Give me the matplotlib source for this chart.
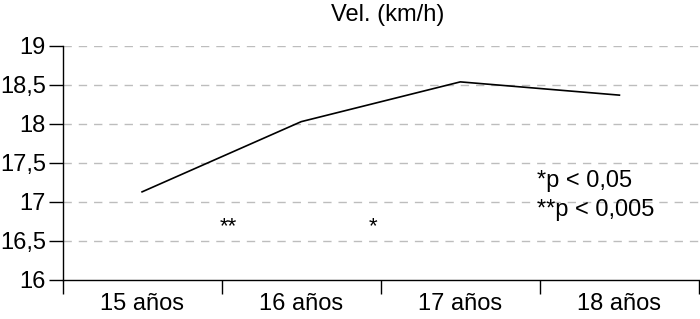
import matplotlib.pyplot as plt
from matplotlib.ticker import FuncFormatter

plt.rcParams['font.family'] = ['Liberation Sans', 'DejaVu Sans']

categorias = ['15 años', '16 años', '17 años', '18 años']
velocidad = [17.13, 18.03, 18.54, 18.37]
y_ticks = [16, 16.5, 17, 17.5, 18, 18.5, 19]

fig = plt.figure(figsize=(7, 3.19), dpi=100)
ax = fig.add_axes([62.5 / 700, 39 / 319, (699 - 62.5) / 700, 234 / 319])

for t in y_ticks[1:]:
    ax.axhline(t, color='#bdbdbd', lw=1, ls=(0, (6, 5)), zorder=0)

ax.plot(range(len(categorias)), velocidad, color='black', lw=1.2)

ax.set_xlim(-0.5, 3.5)
ax.set_ylim(16, 19)
ax.set_yticks(y_ticks)
ax.yaxis.set_major_formatter(FuncFormatter(lambda v, p: f'{v:g}'.replace('.', ',')))
ax.set_xticks([-0.5, 0.5, 1.5, 2.5, 3.5])
ax.set_xticklabels([])
ax.set_xticks(range(len(categorias)), minor=True)
ax.set_xticklabels(categorias, minor=True)
ax.tick_params(axis='x', which='minor', length=0, labelsize=17, pad=9)
ax.tick_params(axis='x', which='major', length=10, width=1)
ax.tick_params(axis='y', length=10, width=1, labelsize=17, pad=2)

for s in ['top', 'right']:
    ax.spines[s].set_visible(False)
ax.spines['left'].set_linewidth(1)
ax.spines['bottom'].set_linewidth(1)

ax.text(0.54, 16.68, '**', fontsize=16, ha='center', va='center')
ax.text(1.45, 16.68, '*', fontsize=16, ha='center', va='center')
ax.text(2.48, 17.27, '*p < 0,05', fontsize=17, ha='left', va='center')
ax.text(2.48, 16.9, '**p < 0,005', fontsize=17, ha='left', va='center')

fig.text(388 / 700, 1 - 15 / 319, 'Vel. (km/h)', fontsize=17, ha='center', va='center')

fig.savefig('out.png', dpi=100)
